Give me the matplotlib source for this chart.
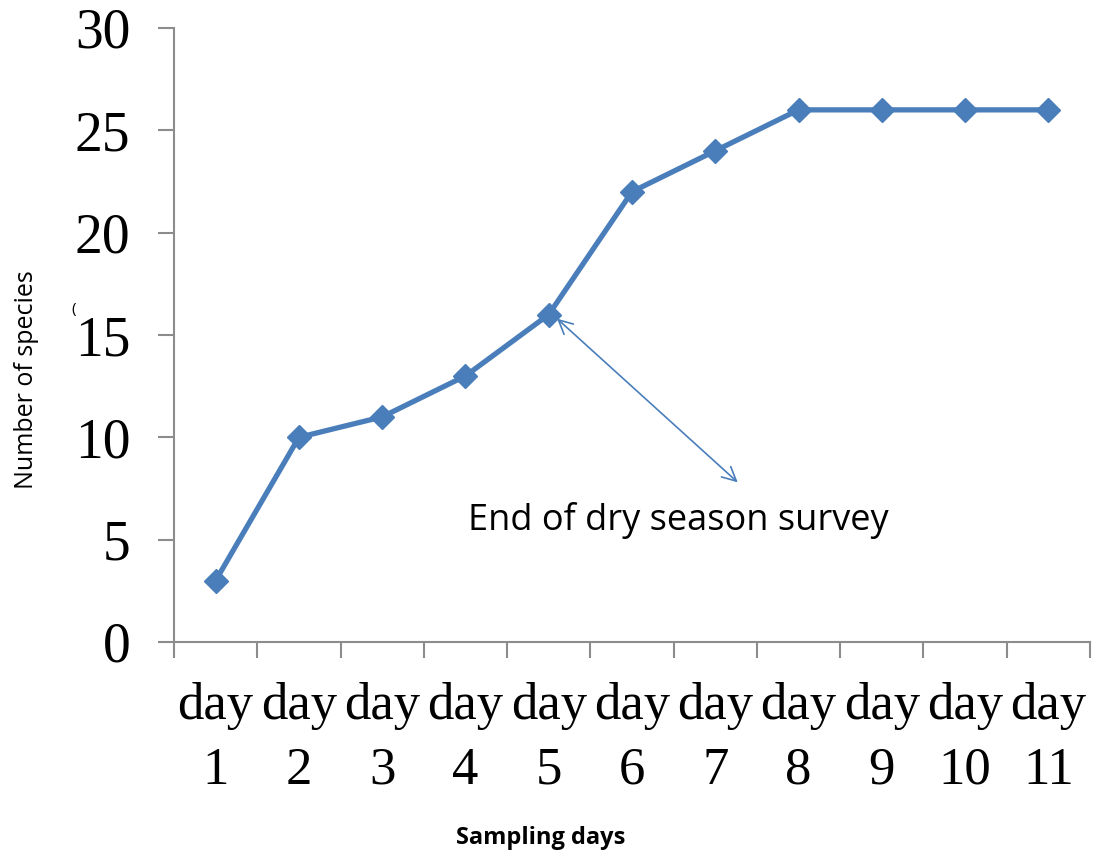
import matplotlib
matplotlib.use("Agg")
import matplotlib.pyplot as plt
import numpy as np

categories = ["day\n1", "day\n2", "day\n3", "day\n4", "day\n5", "day\n6",
              "day\n7", "day\n8", "day\n9", "day\n10", "day\n11"]
species = [3, 10, 11, 13, 16, 22, 24, 26, 26, 26, 26]
y_ticks = [0, 5, 10, 15, 20, 25, 30]

line_color = "#4A7EBB"
axis_color = "#8C8C8C"

fig = plt.figure(figsize=(10.96, 8.52), dpi=100)
ax = fig.add_axes([174/1096, 1-642/852, (1090-174)/1096, (642-28)/852])

x = np.arange(len(categories))
ax.plot(x, species, color=line_color, lw=3.8, marker="D", markersize=12,
        markerfacecolor=line_color, markeredgecolor=line_color, zorder=3)

ax.set_xlim(-0.5, len(categories) - 0.5)
ax.set_ylim(0, 30)

for s in ["top", "right"]:
    ax.spines[s].set_visible(False)
for s in ["left", "bottom"]:
    ax.spines[s].set_color(axis_color)
    ax.spines[s].set_linewidth(1.5)

serif = ["Liberation Serif", "DejaVu Serif"]
ax.set_yticks(y_ticks)
ax.set_yticklabels([str(v) for v in y_ticks], fontsize=40, family=serif)
ax.tick_params(axis="y", length=11.5, width=1.5, color=axis_color, pad=20)

ax.set_xticks(np.arange(len(categories) + 1) - 0.5)
ax.set_xticklabels([])
ax.tick_params(axis="x", which="major", length=11.5, width=1.5, color=axis_color)
ax.set_xticks(x, minor=True)
ax.set_xticklabels(categories, minor=True, fontsize=38, family=serif, linespacing=1.45)
ax.tick_params(axis="x", which="minor", length=0, pad=29)

sans = ["Open Sans", "DejaVu Sans"]
fig.text(27/1096, 1-380/852, "Number of species", rotation=90, fontsize=18,
         family=sans, ha="center", va="center")
fig.text(541/1096, 1-838/852, "Sampling days", fontsize=17, family=sans,
         fontweight="bold", ha="center", va="center")
fig.text(74/1096, 1-309/852, "(", fontsize=11, family=sans, ha="center", va="center")

ax.annotate("", xy=(4.1, 15.8), xytext=(6.27, 7.8),
            arrowprops=dict(arrowstyle="<->", color=line_color, lw=1.2,
                            mutation_scale=25, shrinkA=0, shrinkB=0))
ax.text(3.03, 5.95, "End of dry season survey", fontsize=26, family=sans,
        ha="left", va="center")

fig.savefig("out.png", dpi=100)
